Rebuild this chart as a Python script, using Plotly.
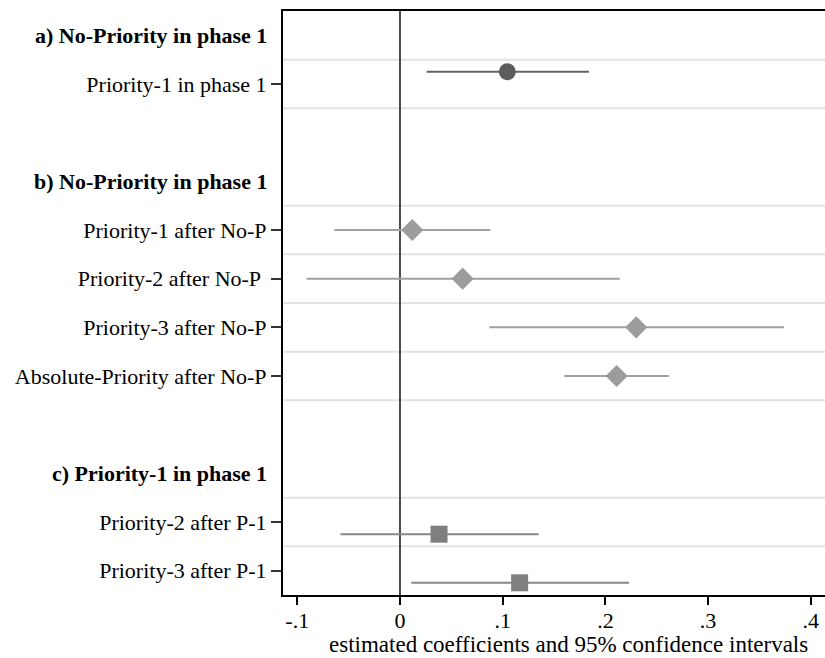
import plotly.graph_objects as go

# Group headers and row labels
header_a = "a) No-Priority in phase 1"
header_b = "b) No-Priority in phase 1"
header_c = "c) Priority-1 in phase 1"

labels_a = ["Priority-1 in phase 1"]
labels_b = ["Priority-1 after No-P", "Priority-2 after No-P\u00a0",
            "Priority-3 after No-P", "Absolute-Priority after No-P"]
labels_c = ["Priority-2 after P-1", "Priority-3 after P-1"]

# Point estimates and 95% confidence bounds
coef_a = [0.1045]
lo_a = [0.026]
hi_a = [0.184]

coef_b = [0.012, 0.061, 0.230, 0.211]
lo_b = [-0.064, -0.091, 0.087, 0.160]
hi_b = [0.088, 0.214, 0.374, 0.262]

coef_c = [0.038, 0.1165]
lo_c = [-0.058, 0.011]
hi_c = [0.135, 0.223]

x_ticks = [-0.1, 0, 0.1, 0.2, 0.3, 0.4]
x_ticktext = ["-.1", "0", ".1", ".2", ".3", ".4"]

FONT = "Liberation Serif"
FS = 22

groups = [
    (header_a, labels_a, coef_a, lo_a, hi_a, "circle", "#5c5c5c", "#636363", -0.25),
    (header_b, labels_b, coef_b, lo_b, hi_b, "diamond", "#9c9c9c", "#a0a0a0", 0.0),
    (header_c, labels_c, coef_c, lo_c, hi_c, "square", "#7f7f7f", "#878787", 0.25),
]

fig = go.Figure()
tickvals, ticktext, header_rows, grid_rows = [], [], [], []
row = 0
for header, labels, coef, lo, hi, symbol, mcol, lcol, offset in groups:
    header_rows.append((row, header))
    rows = [row + 1 + i for i in range(len(labels))]
    tickvals += rows
    ticktext += labels
    for r in rows:
        grid_rows += [r - 0.5, r + 0.5]
    fig.add_trace(go.Scatter(
        x=coef,
        y=[r + offset for r in rows],
        mode="markers",
        marker=dict(symbol=symbol, size=17, color=mcol, line=dict(width=0)),
        error_x=dict(
            type="data", symmetric=False,
            array=[h - c for h, c in zip(hi, coef)],
            arrayminus=[c - l for c, l in zip(coef, lo)],
            color=lcol, thickness=2, width=0,
        ),
        showlegend=False,
        hoverinfo="skip",
    ))
    row = rows[-1] + 2

y_max = tickvals[-1] + 0.5

# Light horizontal separators between rows
for g in sorted(set(grid_rows)):
    if g >= y_max:
        continue
    fig.add_shape(type="line", xref="paper", yref="y", x0=0, x1=1, y0=g, y1=g,
                  line=dict(color="#e3e3e3", width=2), layer="below")

# Vertical reference line at zero
fig.add_shape(type="line", xref="x", yref="paper", x0=0, x1=0, y0=0, y1=1,
              line=dict(color="#4a4a4a", width=2), layer="below")

# Bold group headers to the left of the plot area
for r, text in header_rows:
    fig.add_annotation(text=f"<b>{text}</b>", xref="paper", yref="y", x=0, y=r,
                       xanchor="right", yanchor="middle", xshift=-14,
                       showarrow=False, font=dict(family=FONT, size=FS, color="black"))

# Axis title
fig.add_annotation(text="estimated coefficients and 95% confidence intervals",
                   xref="paper", yref="paper", x=0.526, y=-0.0848,
                   xanchor="center", yanchor="middle", showarrow=False,
                   font=dict(family=FONT, size=23, color="black"))

fig.update_xaxes(
    range=[-0.1139, 0.4138],
    tickvals=x_ticks, ticktext=x_ticktext,
    ticks="outside", ticklen=8, tickwidth=1.5, tickcolor="black",
    showline=True, linecolor="black", linewidth=2, mirror=True,
    showgrid=False, zeroline=False,
    tickfont=dict(family=FONT, size=FS, color="black"),
    ticklabelstandoff=-3,
)
fig.update_yaxes(
    range=[y_max, -0.5],
    tickvals=tickvals, ticktext=ticktext,
    ticks="outside", ticklen=10, tickwidth=1.5, tickcolor="#333333",
    showline=True, linecolor="black", linewidth=2,
    showgrid=False, zeroline=False,
    tickfont=dict(family=FONT, size=FS, color="black"),
    ticklabelstandoff=0,
)

fig.update_layout(
    width=825, height=658,
    margin=dict(l=283, r=0, t=11, b=63),
    plot_bgcolor="white", paper_bgcolor="white",
)

fig.write_html("out.html")
